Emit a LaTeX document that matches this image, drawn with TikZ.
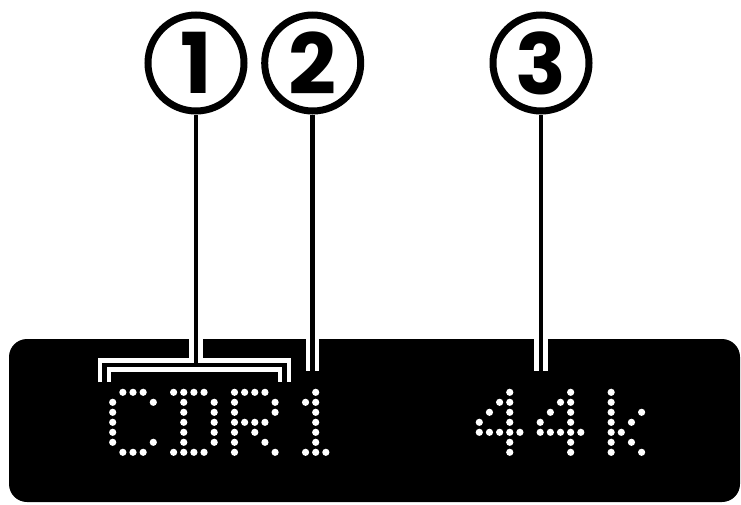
\documentclass[tikz,border=0pt]{standalone}
\usepackage{fontspec}
\newfontfamily\circfont{Poppins}
\newcommand\dotchar[2]{\foreach \c/\r in {#2} {\fill[white] ({#1+10.15*\c},{392.3+10*\r}) circle (3.6pt);}}
\begin{document}
\begin{tikzpicture}[x=1pt,y=-1pt,
  callout/.style={draw, circle, line width=7pt, minimum size=96pt, inner sep=0pt,
    font=\circfont\bfseries\fontsize{84}{84}\selectfont},
  halo/.style={draw=white, line width=13.5pt, line cap=butt, line join=miter},
  core/.style={draw=black, line width=4.5pt, line cap=butt, line join=miter}]
\useasboundingbox (0,0) rectangle (741,504);
% display
\fill[black, rounded corners=18pt] (9,339) rectangle (740,502);
% callouts
\node[callout] (c1) at (196,63) {1};
\node[callout] (c2) at (312.7,63) {2};
\node[callout] (c3) at (541,63) {3};
% leader end points
\coordinate (j1) at (196,365);
\coordinate (bl) at (104.5,382.3);
\coordinate (br) at (284.7,382.3);
\coordinate (e2) at (312.7,370.7);
\coordinate (e3) at (541,370.7);
% halos
\draw[halo] (c1.south) -- (j1);
\draw[halo] (bl) -- (bl |- j1) -- (br |- j1) -- (br);
\draw[halo] (c2.south) -- (e2);
\draw[halo] (c3.south) -- (e3);
% cores
\draw[core] (c1.south) -- (j1);
\draw[core] (bl) -- (bl |- j1) -- (br |- j1) -- (br);
\draw[core] (c2.south) -- (e2);
\draw[core] (c3.south) -- (e3);
% dot-matrix characters
\dotchar{112.7}{1/0,2/0,3/0,0/1,4/1,0/2,0/3,0/4,0/5,4/5,1/6,2/6,3/6}
\dotchar{173.6}{0/0,1/0,2/0,3/0,1/1,4/1,1/2,4/2,1/3,4/3,1/4,4/4,1/5,4/5,0/6,1/6,2/6,3/6}
\dotchar{234.5}{0/0,1/0,2/0,3/0,0/1,4/1,0/2,4/2,0/3,1/3,2/3,3/3,0/4,2/4,0/5,3/5,0/6,4/6}
\dotchar{295.4}{2/0,1/1,2/1,2/2,2/3,2/4,2/5,1/6,2/6,3/6}
\dotchar{479.3}{3/0,2/1,3/1,1/2,3/2,0/3,3/3,0/4,1/4,2/4,3/4,4/4,3/5,3/6}
\dotchar{540.2}{3/0,2/1,3/1,1/2,3/2,0/3,3/3,0/4,1/4,2/4,3/4,4/4,3/5,3/6}
\dotchar{601}{1/0,1/1,1/2,4/2,1/3,3/3,1/4,2/4,1/5,3/5,1/6,4/6}
\end{tikzpicture}
\end{document}
